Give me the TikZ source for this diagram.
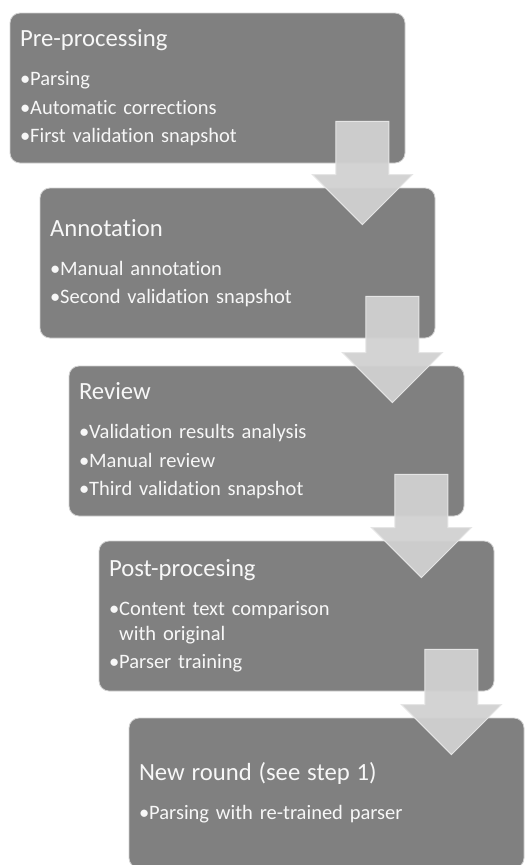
\documentclass[tikz,border=0pt]{standalone}
\usepackage{fontspec}
\setmainfont{Carlito}[Ligatures=NoCommon]
\usepackage{tikz}
\usetikzlibrary{calc}

\newcommand{\steptitle}[1]{{\fontsize{24.7}{28.5}\selectfont #1}}
\newcommand{\steparrow}[2]{%
  \draw[flowarrow] ($(#1)+(-26.5,0)$) -- ($(#1)+(26.5,0)$) -- ($(#2)+(26.5,50)$)
    -- ($(#2)+(50,50)$) -- (#2) -- ($(#2)+(-50,50)$) -- ($(#2)+(-26.5,50)$) -- cycle;}

\begin{document}
\begin{tikzpicture}[x=1pt, y=1pt,
    stepbox/.style={draw=black!18, line width=0.8pt, fill=black!50, rounded corners=10pt,
      text=black!3, text width=375pt, inner xsep=10pt, inner ysep=0pt, minimum height=150pt,
      align=left, font=\fontsize{20.5}{28.5}\selectfont},
    flowarrow/.style={draw=black!10, line width=1pt, fill=black!18, fill opacity=0.95}]
    \useasboundingbox (0, 0) rectangle (526, -865);
    \node[stepbox] (pre) at (207.5, -88) {\steptitle{Pre-processing}\\[10.5pt]%
      •Parsing\\•Automatic corrections\\•First validation snapshot};
    \node[stepbox] (annot) at (237.5, -263) {\steptitle{Annotation}\\[10.5pt]%
      •Manual annotation\\•Second validation snapshot};
    \node[stepbox] (review) at (266.5, -441) {\steptitle{Review}\\[10.5pt]%
      •Validation results analysis\\•Manual review\\•Third validation snapshot};
    \node[stepbox] (post) at (296.5, -616) {\steptitle{Post-procesing}\\[10.5pt]%
      •Content text comparison\\[-3.5pt]\phantom{•}with original\\•Parser training};
    \node[stepbox] (newround) at (326.5, -793) {\steptitle{New round (see step 1)}\\[10.5pt]%
      •Parsing with re-trained parser};
    % arrows between the steps
    \coordinate (t1) at ($(pre.south east)+(-43, 42)$);
    \coordinate (h1) at ($(t1 |- annot.north)+(0, -37)$);
    \coordinate (t2) at ($(annot.south east)+(-43, 42)$);
    \coordinate (h2) at ($(t2 |- review.north)+(0, -37)$);
    \coordinate (t3) at ($(review.south east)+(-43, 42)$);
    \coordinate (h3) at ($(t3 |- post.north)+(0, -37)$);
    \coordinate (t4) at ($(post.south east)+(-43, 42)$);
    \coordinate (h4) at ($(t4 |- newround.north)+(0, -37)$);
    \steparrow{t1}{h1}
    \steparrow{t2}{h2}
    \steparrow{t3}{h3}
    \steparrow{t4}{h4}
\end{tikzpicture}
\end{document}
